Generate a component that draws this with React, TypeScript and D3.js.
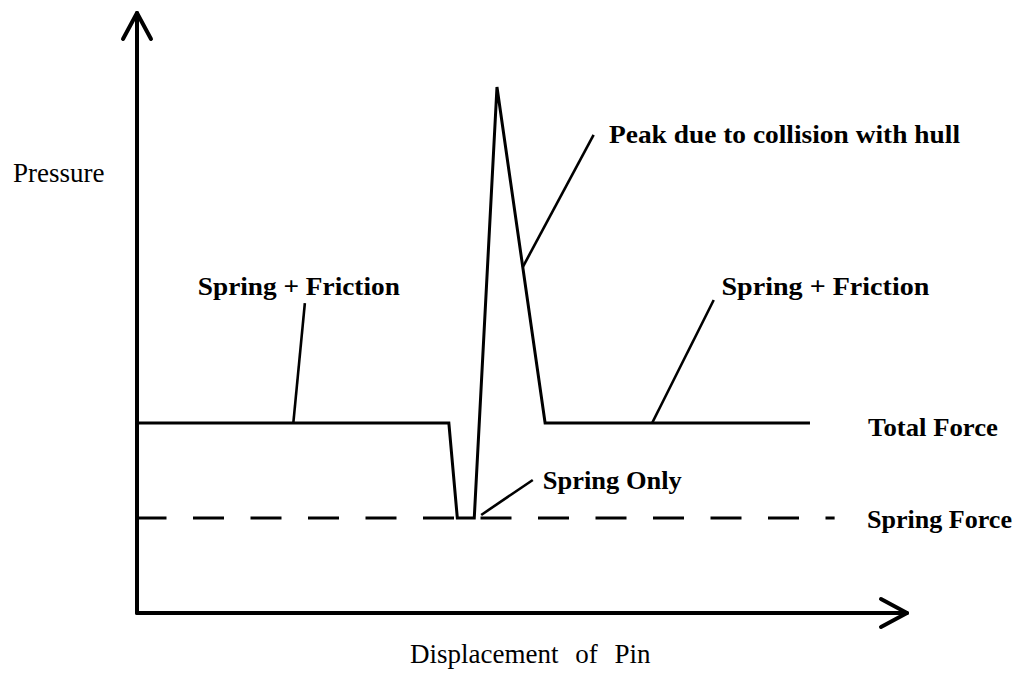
import React from "react";
import * as d3 from "d3";

// Schematic data (displacement units 0..100, pressure units where spring force = 1)
const totalForceX = [0, 40.5, 41.6, 43.8, 46.75, 53, 87.4];
const totalForceY = [2.0, 2.0, 1.0, 1.0, 5.537, 2.0, 2.0];
const springForceX = [0, 90.6];
const springForceY = [1.0, 1.0];

// annotation labels: text, label anchor (x,y), pointer from (x,y) to (x,y)
const annoText = ["Spring + Friction", "Peak due to collision with hull", "Spring Only", "Spring + Friction"];
const annoLabelX = [7.9, 61.3, 52.7, 75.9];
const annoLabelY = [3.347, 4.947, 1.305, 3.347];
const annoLabelW = [202, 351, 139, 208];
const annoFromX = [20.3, 50.1, 44.7, 66.9];
const annoFromY = [2.0, 3.642, 1.032, 2.0];
const annoToX = [21.8, 59.3, 51.4, 74.9];
const annoToY = [3.263, 5.032, 1.4, 3.295];

const seriesNames = ["Total Force", "Spring Force"];
const axisNames = ["Pressure", "Displacement of Pin"];

const W = 1019;
const H = 675;
const axisY = 613;

export default function App() {
  const x = d3.scaleLinear().domain([0, 100]).range([137, 907]);
  const y = d3.scaleLinear().domain([0, 6.316]).range([axisY, 13]);

  const lineGen = d3.line<[number, number]>().x((d) => x(d[0])).y((d) => y(d[1]));
  const total = lineGen(totalForceX.map((v, i) => [v, totalForceY[i]] as [number, number]))!;
  const spring = lineGen(springForceX.map((v, i) => [v, springForceY[i]] as [number, number]))!;

  const x0 = x(0);
  const xEnd = x(100);
  const yTop = y(6.316);
  const boldFont = "'Liberation Serif', 'Times New Roman', serif";

  return (
    <svg
      width={W}
      height={H}
      style={{ position: "absolute", left: 0, top: 0, background: "#fff" }}
    >
      {/* axes */}
      <g stroke="#000" strokeWidth={4} fill="none" strokeLinecap="round" strokeLinejoin="round">
        <line x1={x0} y1={axisY} x2={x0} y2={yTop} />
        <polyline points={`${x0 - 14},${yTop + 26} ${x0},${yTop} ${x0 + 14},${yTop + 26}`} />
        <line x1={x0} y1={axisY} x2={xEnd} y2={axisY} />
        <polyline points={`${xEnd - 26},${axisY - 14} ${xEnd},${axisY} ${xEnd - 26},${axisY + 14}`} />
      </g>

      {/* spring force dashed */}
      <path
        d={spring}
        stroke="#000"
        strokeWidth={3}
        fill="none"
        strokeDasharray="31 26.5"
        strokeDashoffset={1.5}
      />
      {/* total force */}
      <path d={total} stroke="#000" strokeWidth={3} fill="none" strokeLinejoin="miter" />

      {/* annotation pointers */}
      <g stroke="#000" strokeWidth={2.6}>
        {annoText.map((t, i) => (
          <line
            key={i}
            x1={x(annoFromX[i])}
            y1={y(annoFromY[i])}
            x2={x(annoToX[i])}
            y2={y(annoToY[i])}
          />
        ))}
      </g>
      <g fontFamily={boldFont} fontWeight="bold" fontSize={26} fill="#000">
        {annoText.map((t, i) => (
          <text
            key={i}
            x={x(annoLabelX[i])}
            y={y(annoLabelY[i])}
            textLength={annoLabelW[i]}
            lengthAdjust="spacingAndGlyphs"
          >
            {t}
          </text>
        ))}
        <text x={868} y={y(totalForceY[0]) + 13} textLength={130} lengthAdjust="spacingAndGlyphs">
          {seriesNames[0]}
        </text>
        <text x={867} y={y(springForceY[0]) + 10} textLength={145} lengthAdjust="spacingAndGlyphs">
          {seriesNames[1]}
        </text>
      </g>

      {/* axis titles */}
      <g fontFamily="'Liberation Serif', 'Times New Roman', serif" fontSize={27} fill="#000">
        <text x={13} y={182}>{axisNames[0]}</text>
        <text x={410} y={663} wordSpacing={10}>
          {axisNames[1]}
        </text>
      </g>
    </svg>
  );
}
